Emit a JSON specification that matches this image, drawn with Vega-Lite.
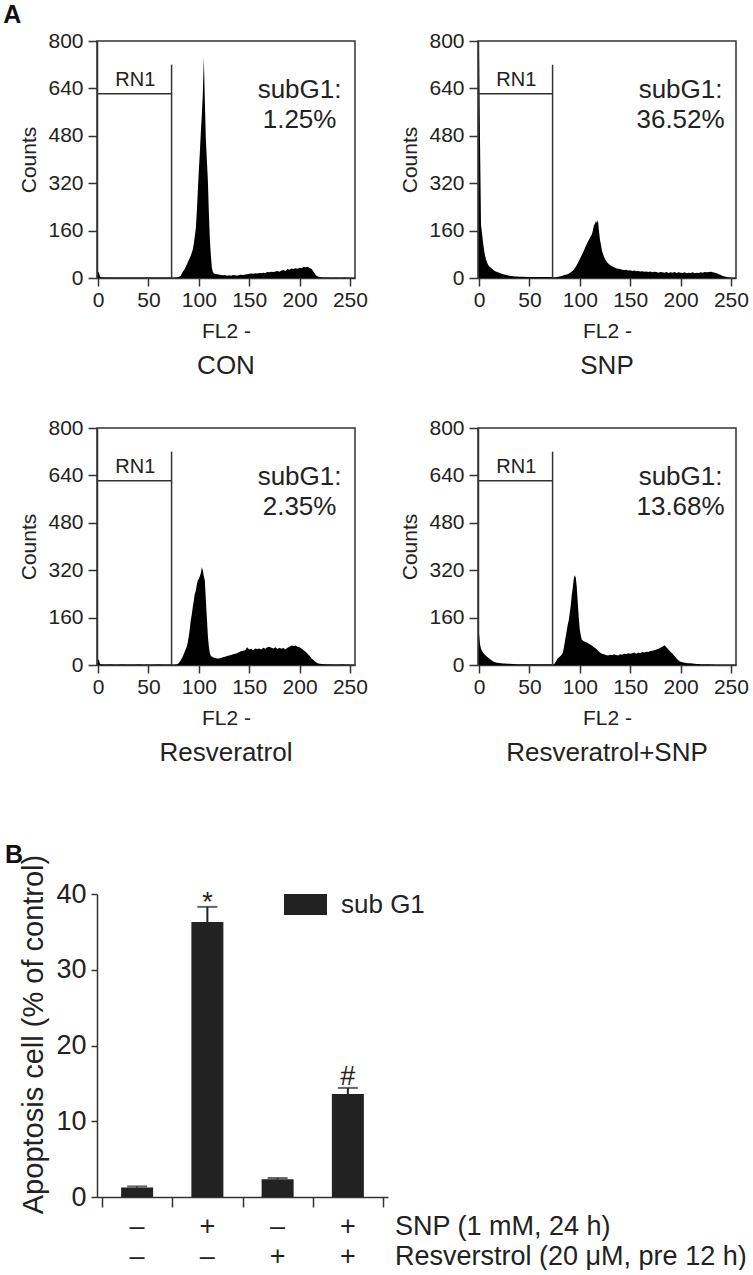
{
  "$schema": "https://vega.github.io/schema/vega-lite/v6.json",
  "background": "white",
  "padding": {"left": 3, "top": 3, "right": 0, "bottom": 0},
  "config": {
    "font": "Liberation Sans",
    "view": {"stroke": "#333", "strokeWidth": 1.5},
    "axis": {"domainColor": "#333", "tickColor": "#333", "domainWidth": 1.5, "tickWidth": 1.5, "labelColor": "#222", "titleColor": "#222", "labelFont": "Liberation Sans", "titleFont": "Liberation Sans", "titleFontWeight": "normal", "grid": false, "labelFlush": false, "labelOverlap": false},
    "axisX": {"labelFontSize": 21, "tickSize": 8, "labelPadding": 3, "titleFontSize": 21, "titlePadding": 10},
    "axisY": {"labelFontSize": 21, "tickSize": 9, "labelPadding": 5, "titleFontSize": 21, "titlePadding": 8},
    "text": {"font": "Liberation Sans", "color": "#222"}
  },
  "datasets": {
    "con": [{"x":0,"c":20},{"x":1,"c":18},{"x":2,"c":4},{"x":4,"c":2},{"x":8,"c":1},{"x":12,"c":1},{"x":16,"c":1},{"x":20,"c":1},{"x":24,"c":1},{"x":28,"c":1},{"x":32,"c":1},{"x":36,"c":1},{"x":40,"c":1},{"x":44,"c":1},{"x":48,"c":1},{"x":52,"c":1},{"x":56,"c":1},{"x":60,"c":1},{"x":64,"c":1},{"x":68,"c":1},{"x":72,"c":1},{"x":74,"c":0},{"x":78,"c":1},{"x":80,"c":3},{"x":82,"c":8},{"x":84,"c":20},{"x":86,"c":30},{"x":88,"c":45},{"x":90,"c":60},{"x":92,"c":75},{"x":93,"c":85},{"x":94,"c":95},{"x":95,"c":115},{"x":96,"c":140},{"x":97,"c":165},{"x":98,"c":220},{"x":99,"c":290},{"x":100,"c":360},{"x":101,"c":420},{"x":102,"c":490},{"x":103,"c":550},{"x":104,"c":620},{"x":105,"c":745},{"x":106,"c":600},{"x":107,"c":470},{"x":108,"c":400},{"x":109,"c":330},{"x":110,"c":220},{"x":111,"c":130},{"x":112,"c":75},{"x":113,"c":35},{"x":114,"c":20},{"x":115,"c":15},{"x":116,"c":14},{"x":118,"c":13},{"x":120,"c":12},{"x":122,"c":10},{"x":124,"c":9},{"x":126,"c":10},{"x":128,"c":8},{"x":130,"c":9},{"x":132,"c":8},{"x":134,"c":10},{"x":136,"c":9},{"x":138,"c":8},{"x":140,"c":10},{"x":142,"c":11},{"x":144,"c":10},{"x":146,"c":12},{"x":148,"c":13},{"x":150,"c":14},{"x":152,"c":15},{"x":154,"c":14},{"x":156,"c":16},{"x":158,"c":15},{"x":160,"c":17},{"x":162,"c":16},{"x":164,"c":18},{"x":166,"c":17},{"x":168,"c":20},{"x":170,"c":19},{"x":172,"c":21},{"x":174,"c":20},{"x":176,"c":22},{"x":178,"c":24},{"x":180,"c":21},{"x":182,"c":25},{"x":184,"c":27},{"x":186,"c":24},{"x":188,"c":30},{"x":190,"c":28},{"x":192,"c":32},{"x":194,"c":30},{"x":196,"c":33},{"x":198,"c":31},{"x":200,"c":35},{"x":202,"c":33},{"x":204,"c":37},{"x":206,"c":36},{"x":208,"c":38},{"x":210,"c":34},{"x":212,"c":30},{"x":214,"c":20},{"x":216,"c":10},{"x":218,"c":5},{"x":220,"c":3},{"x":222,"c":2},{"x":224,"c":1},{"x":228,"c":1},{"x":232,"c":0},{"x":236,"c":1},{"x":240,"c":0},{"x":244,"c":1},{"x":248,"c":0},{"x":252,"c":0}],
    "snp": [{"x":0,"c":768},{"x":1,"c":460},{"x":2,"c":180},{"x":3,"c":150},{"x":4,"c":120},{"x":5,"c":95},{"x":6,"c":75},{"x":7,"c":62},{"x":8,"c":52},{"x":9,"c":45},{"x":10,"c":40},{"x":12,"c":34},{"x":14,"c":28},{"x":16,"c":23},{"x":18,"c":20},{"x":20,"c":18},{"x":22,"c":15},{"x":24,"c":13},{"x":26,"c":11},{"x":28,"c":9},{"x":30,"c":8},{"x":32,"c":7},{"x":34,"c":6},{"x":36,"c":5},{"x":38,"c":5},{"x":40,"c":4},{"x":44,"c":4},{"x":48,"c":3},{"x":52,"c":3},{"x":56,"c":3},{"x":60,"c":3},{"x":64,"c":3},{"x":68,"c":3},{"x":72,"c":3},{"x":74,"c":1},{"x":76,"c":2},{"x":78,"c":3},{"x":80,"c":5},{"x":82,"c":7},{"x":84,"c":9},{"x":86,"c":11},{"x":88,"c":13},{"x":90,"c":17},{"x":92,"c":22},{"x":94,"c":28},{"x":96,"c":38},{"x":98,"c":50},{"x":100,"c":64},{"x":102,"c":78},{"x":104,"c":92},{"x":106,"c":108},{"x":108,"c":122},{"x":110,"c":135},{"x":112,"c":148},{"x":113,"c":160},{"x":114,"c":178},{"x":115,"c":182},{"x":116,"c":192},{"x":117,"c":186},{"x":118,"c":196},{"x":119,"c":160},{"x":120,"c":130},{"x":121,"c":112},{"x":122,"c":92},{"x":124,"c":72},{"x":126,"c":58},{"x":128,"c":50},{"x":130,"c":44},{"x":132,"c":40},{"x":134,"c":36},{"x":136,"c":33},{"x":138,"c":31},{"x":140,"c":30},{"x":142,"c":28},{"x":144,"c":27},{"x":146,"c":28},{"x":148,"c":25},{"x":150,"c":26},{"x":152,"c":24},{"x":154,"c":25},{"x":156,"c":23},{"x":158,"c":24},{"x":160,"c":22},{"x":162,"c":23},{"x":164,"c":21},{"x":166,"c":22},{"x":168,"c":20},{"x":170,"c":22},{"x":172,"c":19},{"x":174,"c":21},{"x":176,"c":20},{"x":178,"c":18},{"x":180,"c":20},{"x":182,"c":19},{"x":184,"c":18},{"x":186,"c":20},{"x":188,"c":17},{"x":190,"c":19},{"x":192,"c":18},{"x":194,"c":20},{"x":196,"c":17},{"x":198,"c":19},{"x":200,"c":18},{"x":202,"c":17},{"x":204,"c":19},{"x":206,"c":16},{"x":208,"c":18},{"x":210,"c":17},{"x":212,"c":19},{"x":214,"c":16},{"x":216,"c":18},{"x":218,"c":17},{"x":220,"c":19},{"x":222,"c":18},{"x":224,"c":20},{"x":226,"c":19},{"x":228,"c":20},{"x":230,"c":21},{"x":232,"c":19},{"x":234,"c":18},{"x":236,"c":16},{"x":238,"c":13},{"x":240,"c":10},{"x":242,"c":7},{"x":244,"c":5},{"x":246,"c":3},{"x":248,"c":1},{"x":250,"c":0}],
    "res": [{"x":0,"c":19},{"x":1,"c":16},{"x":2,"c":3},{"x":4,"c":2},{"x":8,"c":1},{"x":12,"c":2},{"x":16,"c":1},{"x":20,"c":1},{"x":24,"c":2},{"x":28,"c":1},{"x":32,"c":1},{"x":36,"c":1},{"x":40,"c":2},{"x":44,"c":1},{"x":48,"c":1},{"x":52,"c":1},{"x":56,"c":1},{"x":60,"c":2},{"x":64,"c":1},{"x":68,"c":1},{"x":72,"c":1},{"x":74,"c":0},{"x":76,"c":0},{"x":78,"c":2},{"x":80,"c":6},{"x":82,"c":15},{"x":84,"c":28},{"x":86,"c":45},{"x":88,"c":62},{"x":89,"c":75},{"x":90,"c":95},{"x":91,"c":120},{"x":92,"c":150},{"x":93,"c":170},{"x":94,"c":195},{"x":95,"c":215},{"x":96,"c":240},{"x":97,"c":250},{"x":98,"c":270},{"x":99,"c":285},{"x":100,"c":290},{"x":101,"c":300},{"x":102,"c":310},{"x":103,"c":330},{"x":104,"c":320},{"x":105,"c":300},{"x":106,"c":285},{"x":107,"c":220},{"x":108,"c":160},{"x":109,"c":100},{"x":110,"c":62},{"x":111,"c":40},{"x":112,"c":30},{"x":114,"c":26},{"x":116,"c":24},{"x":118,"c":22},{"x":120,"c":22},{"x":122,"c":24},{"x":124,"c":26},{"x":126,"c":28},{"x":128,"c":30},{"x":130,"c":32},{"x":132,"c":34},{"x":134,"c":36},{"x":136,"c":38},{"x":138,"c":40},{"x":140,"c":44},{"x":142,"c":46},{"x":144,"c":48},{"x":146,"c":50},{"x":148,"c":60},{"x":150,"c":52},{"x":152,"c":55},{"x":154,"c":50},{"x":156,"c":56},{"x":158,"c":54},{"x":160,"c":56},{"x":162,"c":52},{"x":164,"c":58},{"x":166,"c":55},{"x":168,"c":60},{"x":170,"c":62},{"x":172,"c":58},{"x":174,"c":56},{"x":176,"c":60},{"x":178,"c":54},{"x":180,"c":58},{"x":182,"c":55},{"x":184,"c":57},{"x":186,"c":52},{"x":188,"c":58},{"x":190,"c":62},{"x":192,"c":66},{"x":194,"c":64},{"x":196,"c":66},{"x":198,"c":62},{"x":200,"c":60},{"x":202,"c":56},{"x":204,"c":50},{"x":206,"c":45},{"x":208,"c":38},{"x":210,"c":30},{"x":212,"c":22},{"x":214,"c":16},{"x":216,"c":10},{"x":218,"c":6},{"x":220,"c":4},{"x":222,"c":3},{"x":226,"c":2},{"x":230,"c":2},{"x":234,"c":1},{"x":238,"c":1},{"x":242,"c":2},{"x":246,"c":1},{"x":250,"c":1}],
    "rs": [{"x":0,"c":107},{"x":1,"c":70},{"x":2,"c":55},{"x":3,"c":48},{"x":4,"c":42},{"x":5,"c":38},{"x":6,"c":34},{"x":8,"c":28},{"x":10,"c":22},{"x":12,"c":17},{"x":14,"c":12},{"x":16,"c":9},{"x":18,"c":8},{"x":20,"c":7},{"x":22,"c":6},{"x":24,"c":5},{"x":26,"c":5},{"x":28,"c":4},{"x":30,"c":4},{"x":34,"c":3},{"x":38,"c":2},{"x":42,"c":2},{"x":46,"c":2},{"x":50,"c":2},{"x":54,"c":2},{"x":58,"c":2},{"x":62,"c":2},{"x":66,"c":2},{"x":70,"c":2},{"x":72,"c":2},{"x":74,"c":0},{"x":76,"c":10},{"x":78,"c":22},{"x":80,"c":28},{"x":82,"c":35},{"x":83,"c":40},{"x":84,"c":55},{"x":85,"c":75},{"x":86,"c":95},{"x":87,"c":115},{"x":88,"c":135},{"x":89,"c":150},{"x":90,"c":175},{"x":91,"c":200},{"x":92,"c":235},{"x":93,"c":260},{"x":94,"c":290},{"x":95,"c":303},{"x":96,"c":295},{"x":97,"c":264},{"x":98,"c":210},{"x":99,"c":160},{"x":100,"c":120},{"x":101,"c":100},{"x":102,"c":85},{"x":104,"c":80},{"x":106,"c":78},{"x":108,"c":74},{"x":110,"c":70},{"x":112,"c":66},{"x":114,"c":60},{"x":116,"c":56},{"x":118,"c":48},{"x":120,"c":42},{"x":122,"c":38},{"x":124,"c":36},{"x":126,"c":34},{"x":128,"c":32},{"x":130,"c":35},{"x":132,"c":33},{"x":134,"c":36},{"x":136,"c":34},{"x":138,"c":32},{"x":140,"c":36},{"x":142,"c":35},{"x":144,"c":38},{"x":146,"c":36},{"x":148,"c":40},{"x":150,"c":38},{"x":152,"c":40},{"x":154,"c":42},{"x":156,"c":38},{"x":158,"c":42},{"x":160,"c":40},{"x":162,"c":44},{"x":164,"c":42},{"x":166,"c":45},{"x":168,"c":44},{"x":170,"c":47},{"x":172,"c":48},{"x":174,"c":50},{"x":176,"c":52},{"x":178,"c":55},{"x":180,"c":58},{"x":182,"c":62},{"x":184,"c":67},{"x":186,"c":60},{"x":188,"c":52},{"x":190,"c":45},{"x":192,"c":38},{"x":194,"c":30},{"x":196,"c":22},{"x":198,"c":15},{"x":200,"c":11},{"x":202,"c":9},{"x":204,"c":8},{"x":206,"c":7},{"x":208,"c":6},{"x":210,"c":6},{"x":212,"c":5},{"x":214,"c":4},{"x":216,"c":3},{"x":218,"c":3},{"x":220,"c":2},{"x":224,"c":2},{"x":228,"c":2},{"x":232,"c":1},{"x":236,"c":0},{"x":250,"c":0}],
    "gate": [{"x":0,"x2":73,"y":622,"y2":622},{"x":73,"x2":73,"y":0,"y2":720}],
    "rn1": [{"x":37,"y":670,"t":"RN1"}],
    "bars": [
      {"g":1,"snp":"–","res":"–","v":1.25,"up":1.4,"sig":"","series":"sub G1"},
      {"g":2,"snp":"+","res":"–","v":36.3,"up":38.3,"sig":"*","series":"sub G1"},
      {"g":3,"snp":"–","res":"+","v":2.35,"up":2.5,"sig":"","series":"sub G1"},
      {"g":4,"snp":"+","res":"+","v":13.6,"up":14.4,"sig":"#","series":"sub G1"}
    ]
  },
  "spacing": 76,
  "resolve": {"legend": {"color": "independent"}},
  "vconcat": [
    {
      "title": {"text": "A", "anchor": "start", "frame": "bounds", "fontSize": 25, "fontWeight": "bold", "font": "Liberation Sans", "color": "#111", "dx": -15, "offset": 1},
      "columns": 2,
      "spacing": {"row": 36, "column": 30},
      "concat": [
        {
          "width": 258, "height": 237,
          "title": {"text": "CON", "orient": "bottom", "fontSize": 26, "fontWeight": "normal", "font": "Liberation Sans", "color": "#222", "offset": 12},
          "layer": [
            {"data": {"name": "con"}, "mark": {"type": "area", "color": "#000", "interpolate": "linear"},
             "encoding": {"x": {"field": "x", "type": "quantitative", "title": "FL2 -", "scale": {"domain": [-1, 255], "nice": false, "zero": false}, "axis": {"values": [0, 50, 100, 150, 200, 250]}},
                          "y": {"field": "c", "type": "quantitative", "title": "Counts", "scale": {"domain": [0, 800], "nice": false}, "axis": {"values": [0, 160, 320, 480, 640, 800]}}}},
            {"data": {"name": "gate"}, "mark": {"type": "rule", "color": "#333", "strokeWidth": 1.5},
             "encoding": {"x": {"field": "x", "type": "quantitative", "title": "FL2 -"}, "x2": {"field": "x2"}, "y": {"field": "y", "type": "quantitative", "title": "Counts"}, "y2": {"field": "y2"}}},
            {"data": {"name": "rn1"}, "mark": {"type": "text", "fontSize": 20},
             "encoding": {"x": {"field": "x", "type": "quantitative", "title": "FL2 -"}, "y": {"field": "y", "type": "quantitative", "title": "Counts"}, "text": {"field": "t"}}},
            {"data": {"values": [{"x": 200, "y": 633, "t": "subG1:\n1.25%"}]}, "mark": {"type": "text", "fontSize": 26, "lineBreak": "\n", "lineHeight": 30},
             "encoding": {"x": {"field": "x", "type": "quantitative", "title": "FL2 -"}, "y": {"field": "y", "type": "quantitative", "title": "Counts"}, "text": {"field": "t"}}}
          ]
        },
        {
          "width": 258, "height": 237,
          "title": {"text": "SNP", "orient": "bottom", "fontSize": 26, "fontWeight": "normal", "font": "Liberation Sans", "color": "#222", "offset": 12},
          "layer": [
            {"data": {"name": "snp"}, "mark": {"type": "area", "color": "#000", "interpolate": "linear"},
             "encoding": {"x": {"field": "x", "type": "quantitative", "title": "FL2 -", "scale": {"domain": [-1, 255], "nice": false, "zero": false}, "axis": {"values": [0, 50, 100, 150, 200, 250]}},
                          "y": {"field": "c", "type": "quantitative", "title": "Counts", "scale": {"domain": [0, 800], "nice": false}, "axis": {"values": [0, 160, 320, 480, 640, 800]}}}},
            {"data": {"name": "gate"}, "mark": {"type": "rule", "color": "#333", "strokeWidth": 1.5},
             "encoding": {"x": {"field": "x", "type": "quantitative", "title": "FL2 -"}, "x2": {"field": "x2"}, "y": {"field": "y", "type": "quantitative", "title": "Counts"}, "y2": {"field": "y2"}}},
            {"data": {"name": "rn1"}, "mark": {"type": "text", "fontSize": 20},
             "encoding": {"x": {"field": "x", "type": "quantitative", "title": "FL2 -"}, "y": {"field": "y", "type": "quantitative", "title": "Counts"}, "text": {"field": "t"}}},
            {"data": {"values": [{"x": 200, "y": 633, "t": "subG1:\n36.52%"}]}, "mark": {"type": "text", "fontSize": 26, "lineBreak": "\n", "lineHeight": 30},
             "encoding": {"x": {"field": "x", "type": "quantitative", "title": "FL2 -"}, "y": {"field": "y", "type": "quantitative", "title": "Counts"}, "text": {"field": "t"}}}
          ]
        },
        {
          "width": 258, "height": 237,
          "title": {"text": "Resveratrol", "orient": "bottom", "fontSize": 26, "fontWeight": "normal", "font": "Liberation Sans", "color": "#222", "offset": 12},
          "layer": [
            {"data": {"name": "res"}, "mark": {"type": "area", "color": "#000", "interpolate": "linear"},
             "encoding": {"x": {"field": "x", "type": "quantitative", "title": "FL2 -", "scale": {"domain": [-1, 255], "nice": false, "zero": false}, "axis": {"values": [0, 50, 100, 150, 200, 250]}},
                          "y": {"field": "c", "type": "quantitative", "title": "Counts", "scale": {"domain": [0, 800], "nice": false}, "axis": {"values": [0, 160, 320, 480, 640, 800]}}}},
            {"data": {"name": "gate"}, "mark": {"type": "rule", "color": "#333", "strokeWidth": 1.5},
             "encoding": {"x": {"field": "x", "type": "quantitative", "title": "FL2 -"}, "x2": {"field": "x2"}, "y": {"field": "y", "type": "quantitative", "title": "Counts"}, "y2": {"field": "y2"}}},
            {"data": {"name": "rn1"}, "mark": {"type": "text", "fontSize": 20},
             "encoding": {"x": {"field": "x", "type": "quantitative", "title": "FL2 -"}, "y": {"field": "y", "type": "quantitative", "title": "Counts"}, "text": {"field": "t"}}},
            {"data": {"values": [{"x": 200, "y": 633, "t": "subG1:\n2.35%"}]}, "mark": {"type": "text", "fontSize": 26, "lineBreak": "\n", "lineHeight": 30},
             "encoding": {"x": {"field": "x", "type": "quantitative", "title": "FL2 -"}, "y": {"field": "y", "type": "quantitative", "title": "Counts"}, "text": {"field": "t"}}}
          ]
        },
        {
          "width": 258, "height": 237,
          "title": {"text": "Resveratrol+SNP", "orient": "bottom", "fontSize": 26, "fontWeight": "normal", "font": "Liberation Sans", "color": "#222", "offset": 12},
          "layer": [
            {"data": {"name": "rs"}, "mark": {"type": "area", "color": "#000", "interpolate": "linear"},
             "encoding": {"x": {"field": "x", "type": "quantitative", "title": "FL2 -", "scale": {"domain": [-1, 255], "nice": false, "zero": false}, "axis": {"values": [0, 50, 100, 150, 200, 250]}},
                          "y": {"field": "c", "type": "quantitative", "title": "Counts", "scale": {"domain": [0, 800], "nice": false}, "axis": {"values": [0, 160, 320, 480, 640, 800]}}}},
            {"data": {"name": "gate"}, "mark": {"type": "rule", "color": "#333", "strokeWidth": 1.5},
             "encoding": {"x": {"field": "x", "type": "quantitative", "title": "FL2 -"}, "x2": {"field": "x2"}, "y": {"field": "y", "type": "quantitative", "title": "Counts"}, "y2": {"field": "y2"}}},
            {"data": {"name": "rn1"}, "mark": {"type": "text", "fontSize": 20},
             "encoding": {"x": {"field": "x", "type": "quantitative", "title": "FL2 -"}, "y": {"field": "y", "type": "quantitative", "title": "Counts"}, "text": {"field": "t"}}},
            {"data": {"values": [{"x": 200, "y": 633, "t": "subG1:\n13.68%"}]}, "mark": {"type": "text", "fontSize": 26, "lineBreak": "\n", "lineHeight": 30},
             "encoding": {"x": {"field": "x", "type": "quantitative", "title": "FL2 -"}, "y": {"field": "y", "type": "quantitative", "title": "Counts"}, "text": {"field": "t"}}}
          ]
        }
      ]
    },
    {
      "title": {"text": "B", "anchor": "start", "frame": "bounds", "fontSize": 25, "fontWeight": "bold", "font": "Liberation Sans", "color": "#111", "dx": -15, "offset": 0, "dy": 14},
      "resolve": {"legend": {"color": "independent"}},
      "hconcat": [
        {
          "width": 291, "height": 303,
          "view": {"stroke": null},
          "data": {"name": "bars"},
          "layer": [
            {"mark": {"type": "bar", "width": 32},
             "encoding": {
               "x": {"field": "g", "type": "quantitative", "title": null, "scale": {"domain": [0.5, 4.5], "nice": false, "zero": false}, "axis": {"values": [0.5, 1.5, 2.5, 3.5, 4.5], "labels": false, "tickSize": 10}},
               "y": {"field": "v", "type": "quantitative", "title": "Apoptosis cell (% of control)", "scale": {"domain": [0, 40], "nice": false}, "axis": {"values": [0, 10, 20, 30, 40], "tickSize": 6, "labelFontSize": 27, "labelPadding": 5, "titleFontSize": 29, "titlePadding": 7, "titleY": 140}},
               "color": {"field": "series", "type": "nominal", "scale": {"range": ["#222222"]}, "legend": {"orient": "none", "legendX": 187, "legendY": -11, "title": null, "symbolType": "M-1,-0.49H1V0.49H-1Z", "symbolSize": 1849, "symbolStrokeWidth": 0, "labelFontSize": 26, "labelFont": "Liberation Sans", "labelColor": "#222", "labelOffset": 14, "padding": 0}}
             }},
            {"mark": {"type": "rule", "color": "#222", "strokeWidth": 2},
             "encoding": {"x": {"field": "g", "type": "quantitative", "title": null}, "y": {"field": "v", "type": "quantitative", "title": "Apoptosis cell (% of control)"}, "y2": {"field": "up"}}},
            {"mark": {"type": "tick", "orient": "horizontal", "size": 20, "thickness": 2, "color": "#222"},
             "encoding": {"x": {"field": "g", "type": "quantitative", "title": null}, "y": {"field": "up", "type": "quantitative", "title": "Apoptosis cell (% of control)"}}},
            {"transform": [{"filter": "datum.sig === '*'"}],
             "mark": {"type": "text", "fontSize": 27, "baseline": "alphabetic", "dy": 4},
             "encoding": {"x": {"field": "g", "type": "quantitative", "title": null}, "y": {"field": "up", "type": "quantitative", "title": "Apoptosis cell (% of control)"}, "text": {"field": "sig"}}},
            {"transform": [{"filter": "datum.sig === '#'"}],
             "mark": {"type": "text", "fontSize": 27, "baseline": "alphabetic", "dy": -3},
             "encoding": {"x": {"field": "g", "type": "quantitative", "title": null}, "y": {"field": "up", "type": "quantitative", "title": "Apoptosis cell (% of control)"}, "text": {"field": "sig"}}},
            {"mark": {"type": "text", "fontSize": 27, "baseline": "alphabetic", "dy": 38},
             "encoding": {"x": {"field": "g", "type": "quantitative", "title": null}, "y": {"datum": 0, "type": "quantitative", "title": "Apoptosis cell (% of control)"}, "text": {"field": "snp"}}},
            {"mark": {"type": "text", "fontSize": 27, "baseline": "alphabetic", "dy": 68},
             "encoding": {"x": {"field": "g", "type": "quantitative", "title": null}, "y": {"datum": 0, "type": "quantitative", "title": "Apoptosis cell (% of control)"}, "text": {"field": "res"}}},
            {"data": {"values": [{"t": "SNP (1 mM, 24 h)"}]}, "mark": {"type": "text", "fontSize": 27, "baseline": "alphabetic", "align": "left", "dx": 12, "dy": 38},
             "encoding": {"x": {"datum": 4.5, "type": "quantitative", "title": null}, "y": {"datum": 0, "type": "quantitative", "title": "Apoptosis cell (% of control)"}, "text": {"field": "t"}}},
            {"data": {"values": [{"t": "Resverstrol (20 μM, pre 12 h)"}]}, "mark": {"type": "text", "fontSize": 27, "baseline": "alphabetic", "align": "left", "dx": 12, "dy": 68},
             "encoding": {"x": {"datum": 4.5, "type": "quantitative", "title": null}, "y": {"datum": 0, "type": "quantitative", "title": "Apoptosis cell (% of control)"}, "text": {"field": "t"}}}
          ]
        }
      ]
    }
  ]
}
